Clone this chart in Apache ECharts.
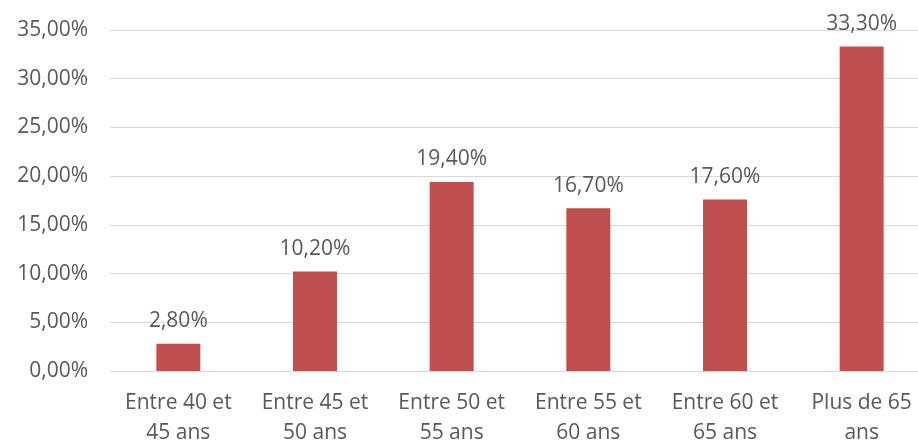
<!DOCTYPE html>
<html>
<head>
<meta charset="utf-8">
<script src="https://cdn.jsdelivr.net/npm/echarts@6/dist/echarts.min.js"></script>
<style>html,body{margin:0;padding:0;background:#fff}#c{width:918px;height:441px}</style>
</head>
<body>
<div id="c"></div>
<script>
const categories = ["Entre 40 et\n45 ans", "Entre 45 et\n50 ans", "Entre 50 et\n55 ans", "Entre 55 et\n60 ans", "Entre 60 et\n65 ans", "Plus de 65\nans"];
const values = [2.8, 10.2, 19.4, 16.7, 17.6, 33.3];
const yMin = 0, yMax = 35, yStep = 5;

const fmt = v => Number(v).toFixed(2).replace('.', ',') + '%';
const FONT = "Open Sans";
const chart = echarts.init(document.getElementById('c'), null, {renderer: 'canvas'});
chart.setOption({
  animation: false,
  grid: {left: 110, top: 30, width: 820, height: 341, containLabel: false, outerBoundsMode: 'none'},
  xAxis: {
    type: 'category', data: categories,
    axisTick: {show: false},
    axisLine: {lineStyle: {color: '#D9D9D9', width: 1}},
    axisLabel: {color: '#595959', fontFamily: FONT, fontSize: 21, lineHeight: 30, margin: 17, interval: 0}
  },
  yAxis: {
    type: 'value', min: yMin, max: yMax, interval: yStep,
    axisLine: {show: false}, axisTick: {show: false},
    splitLine: {lineStyle: {color: '#D9D9D9', width: 1}},
    axisLabel: {color: '#595959', fontFamily: FONT, fontSize: 21, margin: 22, formatter: fmt}
  },
  series: [{
    type: 'bar', data: values, barWidth: 44,
    itemStyle: {color: '#C0504D'},
    label: {show: true, position: 'top', distance: 12, color: '#595959', fontFamily: FONT, fontSize: 21, formatter: p => fmt(p.value)}
  }]
});
</script>
</body>
</html>
